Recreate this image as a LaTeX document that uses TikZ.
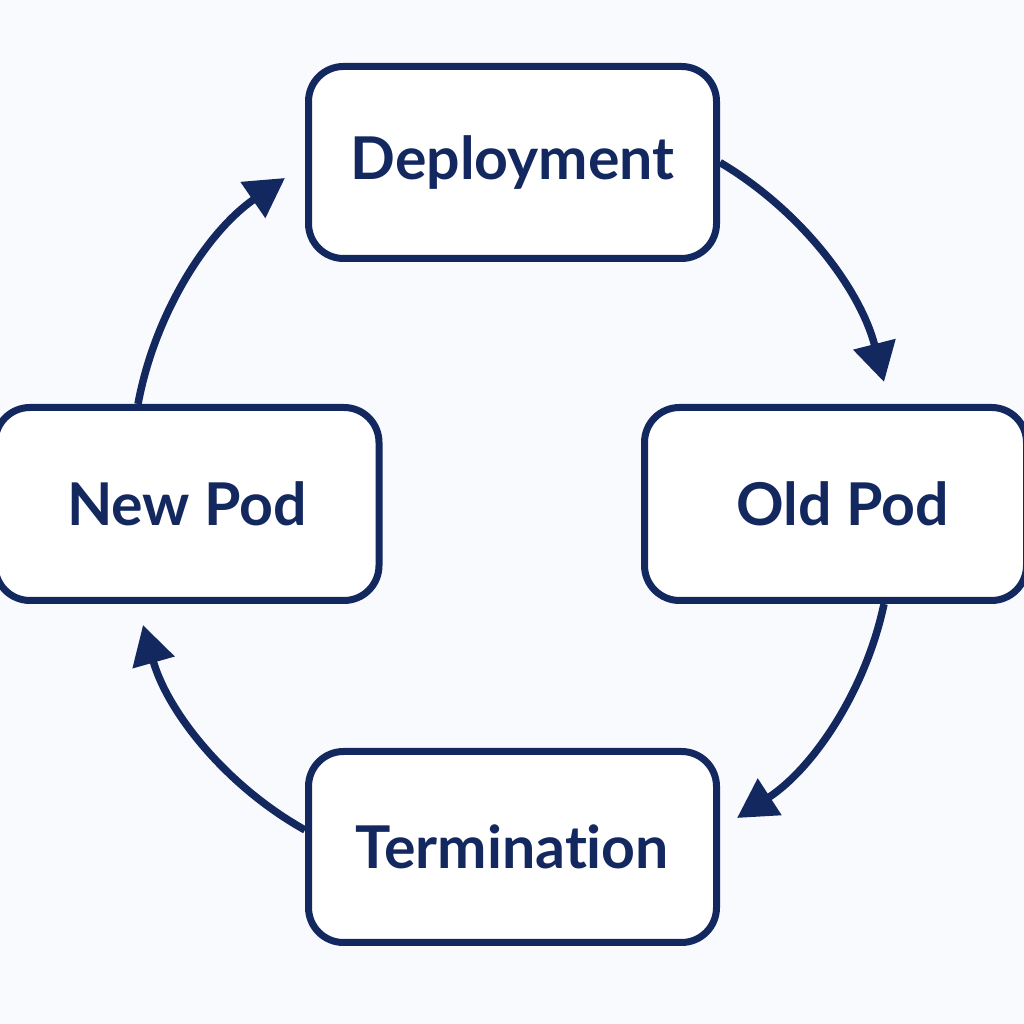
\documentclass[tikz,border=0pt]{standalone}
\usepackage{fontspec}
\setmainfont{Lato}[Ligatures=NoCommon]
\usetikzlibrary{arrows.meta,calc}
\definecolor{navy}{RGB}{20,40,96}
\definecolor{bgc}{RGB}{248,250,253}
\begin{document}
\begin{tikzpicture}[x=1pt,y=1pt,
  box/.style={draw=navy,line width=7pt,fill=white,rounded corners=35pt,
    inner sep=0pt,text=navy,font=\fontsize{59}{62}\selectfont\bfseries},
  arr/.style={draw=navy,line width=7.5pt,looseness=0.885,-{Triangle[length=39pt,width=42pt]}}]
\useasboundingbox (0,0) rectangle (1024,1024);
\fill[bgc] (0,0) rectangle (1024,1024);
\clip (0,0) rectangle (1024,1024);
\node[box,minimum width=408pt,minimum height=192pt] (dep) at (512.5,861.5) {Deployment};
\node[box,minimum width=384pt,minimum height=193pt] (new) at (187,520) {New Pod};
\node[box,minimum width=382pt,minimum height=193pt] (old) at (835.5,520) {\hspace*{14pt}Old Pod};
\node[box,minimum width=408pt,minimum height=191pt] (term) at (512.5,177) {Termination};
\coordinate (t1) at (884,642);
\coordinate (s2) at (t1 |- old.south);
\coordinate (t2) at (737,206);
\coordinate (s3) at ($(term.west)+(0,17)$);
\coordinate (t3) at (143,399);
\coordinate (s4) at ($(new.north)+(-49,0)$);
\coordinate (t4) at (285,846);
\draw[arr] (dep.east) to[out=-30.7,in=104.3] (t1);
\draw[arr] (s2) to[out=-102,in=33] (t2);
\draw[arr] (s3) to[out=150.8,in=-74.2] (t3);
\draw[arr] (s4) to[out=79.5,in=-145.5] (t4);
\end{tikzpicture}
\end{document}
